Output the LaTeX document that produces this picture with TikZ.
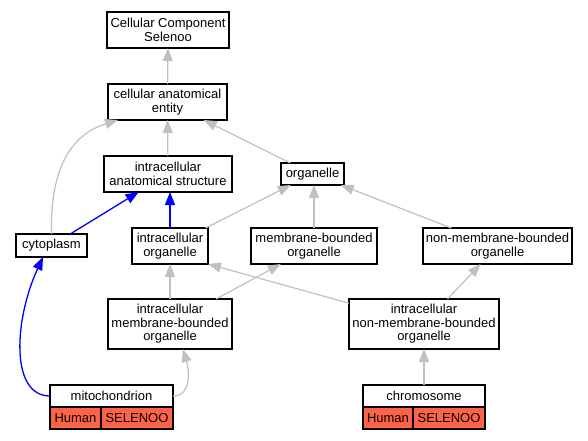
\documentclass[tikz,border=0pt]{standalone}
\usepackage{fontspec}
\setmainfont{Liberation Sans}
\usetikzlibrary{arrows.meta}
\definecolor{edgegray}{HTML}{C0C0C0}
\definecolor{tomatored}{HTML}{FF6347}
\tikzset{
  box/.style={draw=black, line width=1.1pt, fill=white, inner sep=0pt, outer sep=0pt,
    align=center, font=\fontsize{13}{13.5}\selectfont},
  redcell/.style={box, fill=tomatored},
  isa/.style={draw=edgegray, line width=1.2pt, -{Triangle[length=13pt,width=10pt,fill=edgegray]}},
  partof/.style={draw=blue, line width=1.3pt, -{Triangle[length=13pt,width=10pt,fill=blue]}}
}
\begin{document}
\begin{tikzpicture}[x=1pt,y=-1pt]
\useasboundingbox (0,0) rectangle (588,440);
% nodes
\node[box, minimum width=122pt, minimum height=36pt] (ccs) at (168,30) {Cellular Component\\Selenoo};
\node[box, minimum width=119pt, minimum height=36pt] (cae) at (167.5,102) {cellular anatomical\\entity};
\node[box, minimum width=128pt, minimum height=36pt] (ias) at (168,174) {intracellular\\anatomical structure};
\node[box, minimum width=63pt, minimum height=22pt] (org) at (312.5,174) {organelle};
\node[box, minimum width=71pt, minimum height=23pt] (cyto) at (51.5,245.5) {cytoplasm};
\node[box, minimum width=76pt, minimum height=36pt] (io) at (170,246) {intracellular\\organelle};
\node[box, minimum width=126pt, minimum height=36pt] (mbo) at (314,246) {membrane-bounded\\organelle};
\node[box, minimum width=149pt, minimum height=36pt] (nmbo) at (497.5,246) {non-membrane-bounded\\organelle};
\node[box, minimum width=124pt, minimum height=50pt] (imbo) at (170,324) {intracellular\\membrane-bounded\\organelle};
\node[box, minimum width=150pt, minimum height=50pt] (inmbo) at (424,324) {intracellular\\non-membrane-bounded\\organelle};
\node[box, minimum width=123pt, minimum height=22pt] (mito) at (111.5,396) {mitochondrion};
\node[redcell, minimum width=51pt, minimum height=22pt] (mitoH) at (75.5,418) {Human};
\node[redcell, minimum width=72pt, minimum height=22pt] (mitoS) at (137,418) {SELENOO};
\node[box, minimum width=122pt, minimum height=22pt] (chrom) at (424,396) {chromosome};
\node[redcell, minimum width=50pt, minimum height=22pt] (chromH) at (388,418) {Human};
\node[redcell, minimum width=72pt, minimum height=22pt] (chromS) at (449,418) {SELENOO};
% edges
\draw[isa] (cae) -- (ccs);
\draw[isa] (ias) -- (cae);
\draw[isa] (org) -- (cae);
\draw[isa] (cyto.north) .. controls (50,170) and (70,135) .. (cae.south west -| 118,0);
\draw[partof] (cyto) -- (ias);
\draw[partof] (io) -- (io.north |- ias.south);
\draw[isa] (io) -- (org);
\draw[isa] (mbo) -- (mbo.north |- org.south);
\draw[isa] (nmbo) -- (org);
\draw[isa] (imbo) -- (imbo.north |- io.south);
\draw[isa] (imbo) -- (mbo);
\draw[isa] (inmbo) -- (io.south east);
\draw[isa] (inmbo) -- (nmbo);
\draw[partof] (mito.west) .. controls (10,396) and (14,320) .. (cyto.south west -| 43,0);
\draw[isa] (mito.east) .. controls (192,396) and (189,370) .. (imbo.south -| 183,0);
\draw[isa] (chrom) -- (inmbo);
\end{tikzpicture}
\end{document}
